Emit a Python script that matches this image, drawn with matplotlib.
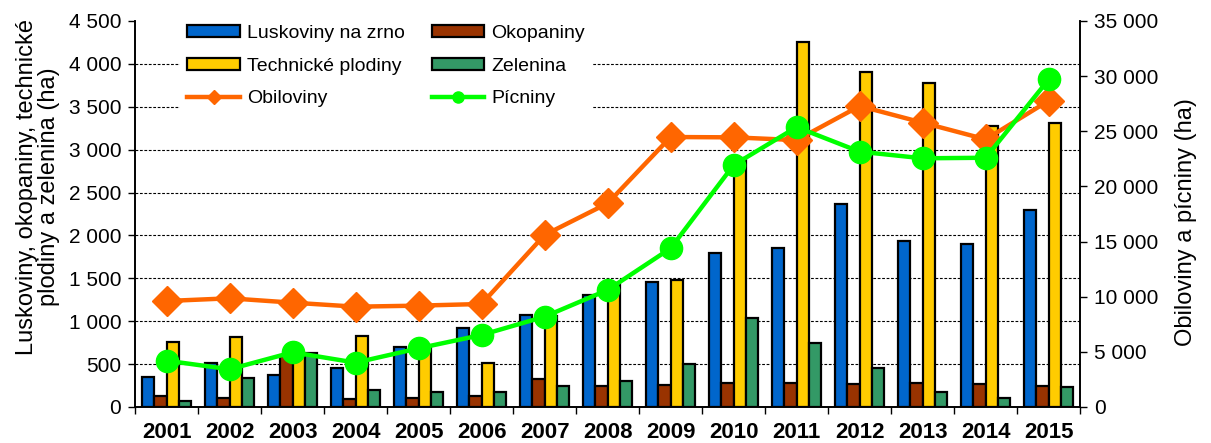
import matplotlib.pyplot as plt
import numpy as np
from matplotlib.ticker import FuncFormatter, MultipleLocator

plt.rcParams['font.family'] = ['Liberation Sans', 'DejaVu Sans']

years = ['2001', '2002', '2003', '2004', '2005', '2006', '2007', '2008',
         '2009', '2010', '2011', '2012', '2013', '2014', '2015']

# left axis (ha)
luskoviny = [344, 515, 375, 457, 699, 925, 1070, 1310, 1452, 1796, 1850, 2370, 1940, 1895, 2300]
okopaniny = [129, 110, 600, 98, 110, 130, 330, 242, 254, 274, 285, 265, 284, 265, 245]
technicke = [754, 813, 600, 831, 690, 507, 1060, 1450, 1483, 2900, 4250, 3907, 3780, 3280, 3306]
zelenina = [67, 333, 625, 196, 176, 171, 249, 301, 500, 1035, 742, 459, 175, 110, 233]

# right axis (ha)
obiloviny = [9610, 9855, 9460, 9095, 9190, 9340, 15600, 18470, 24480, 24450, 24200, 27290, 25780, 24270, 27770]
picniny = [4200, 3420, 4960, 4020, 5320, 6530, 8190, 10610, 14390, 21940, 25380, 23150, 22550, 22600, 29700]


def space_fmt(v, pos):
    return '{:,.0f}'.format(v).replace(',', ' ')


fig = plt.figure(figsize=(12.11, 4.43), dpi=100)
ax = fig.add_axes([0.1115, 0.0813, 0.7805, 0.8713])
ax2 = ax.twinx()

x = np.arange(len(years))
w = 0.195
series = [
    (luskoviny, '#0066CC', 'Luskoviny na zrno'),
    (okopaniny, '#993300', 'Okopaniny'),
    (technicke, '#FFCC00', 'Technické plodiny'),
    (zelenina, '#339966', 'Zelenina'),
]
bars = []
for i, (vals, col, lab) in enumerate(series):
    b = ax.bar(x + (i - 1.5) * w, vals, w, color=col, edgecolor='black',
               linewidth=1.6, label=lab, zorder=3)
    bars.append(b)

l1, = ax2.plot(x, obiloviny, color='#FF6600', lw=3.2, marker='D', markersize=15,
               label='Obiloviny', zorder=4)
l2, = ax2.plot(x, picniny, color='#00FF00', lw=3.2, marker='o', markersize=16,
               label='Pícniny', zorder=5)

ax.set_xlim(-0.5, len(years) - 0.5)
ax.set_ylim(0, 4500)
ax2.set_ylim(0, 35000)

ax.yaxis.set_major_locator(MultipleLocator(500))
ax2.yaxis.set_major_locator(MultipleLocator(5000))
ax.yaxis.set_major_formatter(FuncFormatter(space_fmt))
ax2.yaxis.set_major_formatter(FuncFormatter(space_fmt))

for gy in np.arange(500, 4500, 500):
    ax.axhline(gy, color='black', lw=0.8, ls=(0, (2.5, 1.5)), zorder=1)

# category ticks between groups, labels centred
ax.set_xticks(np.arange(-0.5, len(years), 1.0))
ax.set_xticklabels([])
ax.set_xticks(x, minor=True)
ax.set_xticklabels(years, minor=True, fontsize=16, fontweight='bold')
ax.tick_params(axis='x', which='minor', length=0, pad=11)
ax.tick_params(axis='x', which='major', length=5, width=1.0, direction='out')
ax.tick_params(axis='y', labelsize=15, length=5, width=1.0, direction='out', pad=5)
ax2.tick_params(axis='y', labelsize=15, length=5, width=1.0, direction='out', pad=5)

for a in (ax, ax2):
    a.spines['top'].set_visible(False)
    for s in ('left', 'right', 'bottom'):
        a.spines[s].set_linewidth(1.2)

ax.set_ylabel('Luskoviny, okopaniny, technické\nplodiny a zelenina (ha)', fontsize=17,
              linespacing=1.0, labelpad=6)
ax2.set_ylabel('Obiloviny a pícniny (ha)', fontsize=17, labelpad=12)
ax.yaxis.label.set_y(0.57)
ax2.yaxis.label.set_y(0.48)

handles = [bars[0], bars[2], l1, bars[1], bars[3], l2]
labels = [h.get_label() for h in handles]
leg = ax2.legend(handles, labels, ncol=2, frameon=True, loc='upper left',
                 bbox_to_anchor=(0.037, 1.035), fontsize=14, handlelength=2.7,
                 handletextpad=0.35, handleheight=0.55, fancybox=False,
                 columnspacing=1.4, labelspacing=0.8, markerscale=0.5)
leg.get_frame().set_facecolor('white')
leg.get_frame().set_alpha(1)
leg.get_frame().set_linewidth(0)
leg.set_zorder(10)

fig.savefig('out.png', dpi=100)
